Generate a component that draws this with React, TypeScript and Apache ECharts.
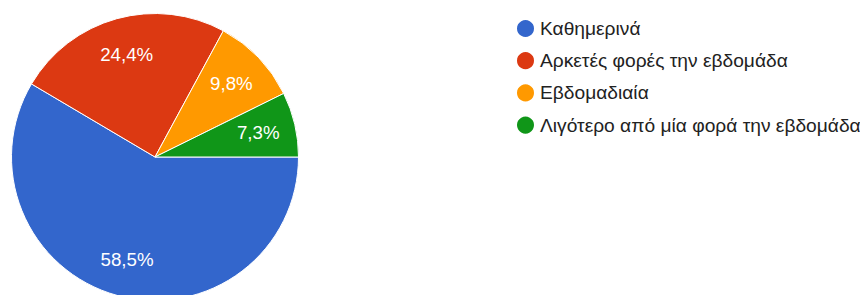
import React, { useEffect, useRef } from "react";
import * as echarts from "echarts";

const categories = [
  "Καθημερινά",
  "Αρκετές φορές την εβδομάδα",
  "Εβδομαδιαία",
  "Λιγότερο από μία φορά την εβδομάδα",
];
const values = [58.5, 24.4, 9.8, 7.3];
const labels = ["58,5%", "24,4%", "9,8%", "7,3%"];
const colors = ["#3366cc", "#dc3912", "#ff9900", "#109618"];

const FONT = "'Liberation Sans', Arial, sans-serif";

export default function App() {
  const ref = useRef<HTMLDivElement>(null);
  useEffect(() => {
    if (!ref.current) return;
    const chart = echarts.init(ref.current, null, { renderer: "svg" });
    const data = categories.map((name, i) => ({
      name,
      value: values[i],
      itemStyle: { color: colors[i] },
    }));
    chart.setOption({
      animation: false,
      color: colors,
      legend: {
        orient: "vertical",
        left: 510,
        top: 13,
        icon: "circle",
        itemWidth: 19,
        itemHeight: 19,
        itemGap: 11.2,
        itemTextGap: 8,
        data: categories,
        textStyle: {
          fontFamily: FONT,
          fontSize: 19.2,
          lineHeight: 19,
          color: "#222222",
        },
        selectedMode: false,
      },
      series: [
        {
          type: "pie",
          center: [155, 157],
          radius: [0, 143.5],
          startAngle: 0,
          clockwise: true,
          silent: true,
          itemStyle: { borderColor: "#ffffff", borderWidth: 1 },
          label: { show: false },
          labelLine: { show: false },
          data,
        },
        {
          type: "pie",
          center: [155, 157],
          radius: [0, 206],
          startAngle: 0,
          clockwise: true,
          silent: true,
          legendHoverLink: false,
          itemStyle: { color: "rgba(0,0,0,0)" },
          labelLine: { show: false },
          label: {
            show: true,
            position: "inside",
            color: "#ffffff",
            fontFamily: FONT,
            fontSize: 18.7,
            formatter: (p: any) => labels[p.dataIndex],
          },
          data: categories.map((name, i) => ({ name, value: values[i] })),
        },
      ],
    });
    return () => chart.dispose();
  }, []);
  return <div ref={ref} style={{ width: 860, height: 295, position: "absolute", left: 0, top: 0 }} />;
}
